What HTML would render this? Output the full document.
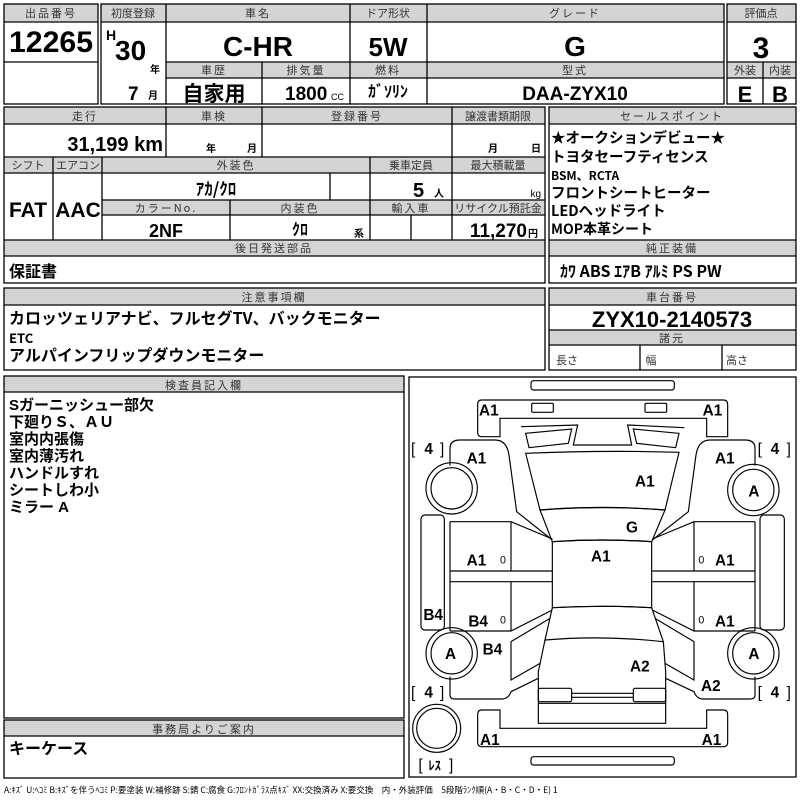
<!DOCTYPE html>
<html><head><meta charset="utf-8"><style>
html,body{margin:0;padding:0;background:#fff;width:800px;height:800px;overflow:hidden}
text{font-family:"Liberation Sans Narrow","Liberation Sans","Noto Sans CJK JP",sans-serif;fill:#000}
.h{font-size:11px;text-anchor:middle;fill:#333;font-family:"Noto Sans CJK JP",sans-serif;letter-spacing:2px}
.b{font-weight:bold}
.c{text-anchor:middle}
.e{text-anchor:end}
.j{font-family:"Noto Sans CJK JP",sans-serif;font-weight:bold}
</style></head><body>
<svg width="800" height="800" viewBox="0 0 800 800" xmlns="http://www.w3.org/2000/svg">
<g fill="#d4d4d4" stroke="none">
<rect x="4" y="4" width="94" height="18"/><rect x="101" y="4" width="623" height="18"/><rect x="727" y="4" width="69" height="18"/>
<rect x="166" y="62" width="558" height="16"/><rect x="727" y="62" width="69" height="16"/>
<rect x="4" y="107" width="541" height="17"/><rect x="4" y="157" width="541" height="16"/><rect x="102" y="200" width="443" height="15"/><rect x="4" y="240" width="541" height="16"/>
<rect x="549" y="107" width="247" height="17"/><rect x="549" y="240" width="247" height="16"/>
<rect x="4" y="288" width="541" height="17"/><rect x="549" y="288" width="247" height="17"/><rect x="549" y="330" width="247" height="15"/>
<rect x="4" y="376" width="400" height="16"/><rect x="4" y="720" width="400" height="16"/>
</g>
<g fill="none" stroke="#000" stroke-width="1.3">
<rect x="4" y="4" width="94" height="100"/><line x1="4" y1="22" x2="98" y2="22"/><line x1="4" y1="62" x2="98" y2="62"/>
<rect x="101" y="4" width="623" height="100"/><line x1="101" y1="22" x2="724" y2="22"/>
<line x1="166" y1="4" x2="166" y2="104"/><line x1="350" y1="4" x2="350" y2="104"/><line x1="427" y1="4" x2="427" y2="104"/>
<line x1="262" y1="62" x2="262" y2="104"/><line x1="166" y1="62" x2="724" y2="62"/><line x1="166" y1="78" x2="724" y2="78"/>
<rect x="727" y="4" width="69" height="100"/><line x1="727" y1="22" x2="796" y2="22"/><line x1="727" y1="62" x2="796" y2="62"/><line x1="727" y1="78" x2="796" y2="78"/><line x1="763" y1="62" x2="763" y2="104"/>
<rect x="4" y="107" width="541" height="176"/>
<line x1="4" y1="124" x2="545" y2="124"/><line x1="4" y1="157" x2="545" y2="157"/><line x1="4" y1="173" x2="545" y2="173"/>
<line x1="102" y1="200" x2="545" y2="200"/><line x1="102" y1="215" x2="545" y2="215"/><line x1="4" y1="240" x2="545" y2="240"/><line x1="4" y1="256" x2="545" y2="256"/>
<line x1="166" y1="107" x2="166" y2="157"/><line x1="262" y1="107" x2="262" y2="157"/><line x1="452" y1="107" x2="452" y2="157"/>
<line x1="53" y1="157" x2="53" y2="240"/><line x1="102" y1="157" x2="102" y2="240"/><line x1="370" y1="157" x2="370" y2="240"/><line x1="452" y1="157" x2="452" y2="240"/>
<line x1="330" y1="173" x2="330" y2="200"/><line x1="230" y1="200" x2="230" y2="240"/><line x1="411" y1="215" x2="411" y2="240"/>
<rect x="549" y="107" width="247" height="176"/><line x1="549" y1="124" x2="796" y2="124"/><line x1="549" y1="240" x2="796" y2="240"/><line x1="549" y1="256" x2="796" y2="256"/>
<rect x="4" y="288" width="541" height="82"/><line x1="4" y1="305" x2="545" y2="305"/>
<rect x="549" y="288" width="247" height="82"/><line x1="549" y1="305" x2="796" y2="305"/><line x1="549" y1="330" x2="796" y2="330"/><line x1="549" y1="345" x2="796" y2="345"/>
<line x1="640" y1="345" x2="640" y2="370"/><line x1="722" y1="345" x2="722" y2="370"/>
<rect x="4" y="376" width="400" height="342"/><line x1="4" y1="392" x2="404" y2="392"/>
<rect x="4" y="720" width="400" height="58"/><line x1="4" y1="736" x2="404" y2="736"/>
<rect x="409" y="377" width="387" height="400"/>
</g>
<text class="h" x="51" y="17">出品番号</text><text class="b c" x="51" y="52" font-size="30" textLength="84" lengthAdjust="spacingAndGlyphs">12265</text>
<text class="h" x="133" y="17" style="letter-spacing:0">初度登録</text><text class="h" x="258" y="17">車名</text><text class="h" x="388" y="17" style="letter-spacing:0">ドア形状</text><text class="h" x="575" y="17">グレード</text>
<text class="b" x="106" y="40" font-size="14">H</text><text class="b" x="115" y="60" font-size="28">30</text><text class="j" x="150" y="73" font-size="10" font-weight="normal">年</text>
<text class="b" x="128" y="100" font-size="19">7</text><text class="j" x="148" y="99" font-size="10">月</text>
<text class="b c" x="258" y="56" font-size="28">C-HR</text><text class="b c" x="388" y="56" font-size="26">5W</text><text class="b c" x="575" y="56" font-size="28">G</text>
<text class="h" x="214" y="74">車歴</text><text class="h" x="306" y="74">排気量</text><text class="h" x="388" y="74">燃料</text><text class="h" x="575" y="74">型式</text>
<text class="j c" x="214" y="101" font-size="21">自家用</text><text class="b" x="285" y="100" font-size="19">1800</text><text x="331" y="100" font-size="9">CC</text>
<text class="j c" x="388" y="97" font-size="16">ｶﾞｿﾘﾝ</text><text class="b c" x="575" y="100" font-size="19">DAA-ZYX10</text>
<text class="h" x="761" y="17" style="letter-spacing:0">評価点</text><text class="b c" x="761" y="58" font-size="30">3</text>
<text class="h" x="745" y="74" style="letter-spacing:0">外装</text><text class="h" x="780" y="74" style="letter-spacing:0">内装</text>
<text class="b c" x="745" y="102" font-size="22">E</text><text class="b c" x="780" y="102" font-size="22">B</text>
<text class="h" x="85" y="120">走行</text><text class="h" x="214" y="120">車検</text><text class="h" x="357" y="120">登録番号</text><text class="h" x="498" y="120" style="letter-spacing:0">譲渡書類期限</text>
<text class="b e" x="163" y="151" font-size="20">31,199 km</text>
<text class="j" x="206" y="152" font-size="10" font-weight="normal">年</text><text class="j" x="247" y="152" font-size="10" font-weight="normal">月</text>
<text class="j" x="488" y="152" font-size="10" font-weight="normal">月</text><text class="j" x="531" y="152" font-size="10" font-weight="normal">日</text>
<text class="h" x="28" y="169" style="letter-spacing:0">シフト</text><text class="h" x="78" y="169" style="letter-spacing:0">エアコン</text><text class="h" x="236" y="169">外装色</text><text class="h" x="411" y="169" style="letter-spacing:0">乗車定員</text><text class="h" x="498" y="169" style="letter-spacing:0">最大積載量</text>
<text class="b c" x="28" y="217" font-size="21">FAT</text><text class="b c" x="78" y="217" font-size="21">AAC</text>
<text class="j c" x="216" y="195" font-size="17">ｱｶ/ｸﾛ</text><text class="b" x="413" y="197" font-size="20">5</text><text class="j" x="434" y="197" font-size="10" font-weight="normal">人</text><text class="e" x="541" y="197" font-size="10">kg</text>
<text class="h" x="166" y="212">カラーNo.</text><text class="h" x="300" y="212">内装色</text><text class="h" x="411" y="212">輸入車</text><text class="h" x="498" y="212" style="letter-spacing:0">リサイクル預託金</text>
<text class="b c" x="166" y="237" font-size="18">2NF</text><text class="j c" x="300" y="235" font-size="16">ｸﾛ</text><text class="j" x="354" y="237" font-size="10" font-weight="normal">系</text>
<text class="b e" x="527" y="237" font-size="19">11,270</text><text class="j" x="528" y="237" font-size="10" font-weight="normal">円</text>
<text class="h" x="274" y="252">後日発送部品</text><text class="j" x="9" y="277" font-size="16">保証書</text>
<text class="h" x="672" y="120">セールスポイント</text>
<text class="j" x="551" y="143" font-size="14.5">★オークションデビュー★</text>
<text class="j" x="551" y="162" font-size="14.5">トヨタセーフティセンス</text>
<text class="j" x="551" y="180" font-size="12">BSM、RCTA</text>
<text class="j" x="551" y="198" font-size="14.5">フロントシートヒーター</text>
<text class="j" x="551" y="216" font-size="14.5">LEDヘッドライト</text>
<text class="j" x="551" y="234" font-size="14">MOP本革シート</text>
<text class="h" x="672" y="252">純正装備</text>
<text class="j" x="560" y="277" font-size="16">ｶﾜ ABS ｴｱB ｱﾙﾐ PS PW</text>
<text class="h" x="274" y="301">注意事項欄</text>
<text class="j" x="9" y="324" font-size="16">カロッツェリアナビ、フルセグTV、バックモニター</text>
<text class="j" x="9" y="343" font-size="13">ETC</text>
<text class="j" x="9" y="361" font-size="16">アルパインフリップダウンモニター</text>
<text class="h" x="672" y="301">車台番号</text><text class="b c" x="672" y="327" font-size="22">ZYX10-2140573</text>
<text class="h" x="672" y="342">諸元</text>
<text class="h" x="567" y="364" style="letter-spacing:0">長さ</text><text class="h" x="652" y="364">幅</text><text class="h" x="737" y="364" style="letter-spacing:0">高さ</text>
<text class="h" x="204" y="389">検査員記入欄</text>
<g class="j" font-size="15">
<text x="9" y="410">Sガーニッシュー部欠</text><text x="9" y="427">下廻りＳ、ＡＵ</text><text x="9" y="444">室内内張傷</text><text x="9" y="461">室内薄汚れ</text><text x="9" y="478">ハンドルすれ</text><text x="9" y="495">シートしわ小</text><text x="9" y="512">ミラー A</text>
</g>
<text class="h" x="204" y="733">事務局よりご案内</text><text class="j" x="9" y="754" font-size="16">キーケース</text>
<text x="4" y="793" font-size="8.5" style="font-family:'Noto Sans CJK JP',sans-serif">A:ｷｽﾞ U:ﾍｺﾐ B:ｷｽﾞを伴うﾍｺﾐ P:要塗装 W:補修跡 S:錆 C:腐食 G:ﾌﾛﾝﾄｶﾞﾗｽ点ｷｽﾞ XX:交換済み X:要交換　内・外装評価　5段階ﾗﾝｸ順(A・B・C・D・E) 1</text>

<svg x="405" y="375" width="395" height="425" viewBox="0 0 1185 1275">
<g fill="none" stroke="#000" stroke-width="3.5">
<rect x="378" y="17" width="430" height="28" rx="8"/>
<path d="M230,75 H955 Q968,75 968,88 V185 H905 V130 H285 V185 H230 Q218,185 218,172 V88 Q218,75 230,75 Z"/>
<rect x="380" y="85" width="65" height="27" rx="4"/><rect x="720" y="85" width="65" height="27" rx="4"/>
<path d="M348,155 L518,150 L505,210 L680,210 L668,150 L838,158"/>
<path d="M362,175 L500,162 L490,205 L372,218 Z"/><path d="M685,162 L822,175 L812,218 L695,205 Z"/>
<path d="M362,235 Q592,225 822,232 L780,405 Q592,390 405,405 Z"/>
<path d="M405,405 Q592,390 780,405 L740,500 Q592,490 442,500 Z"/>
<path d="M442,500 Q592,490 740,500 V698 Q592,690 442,698 Z"/>
<path d="M442,698 Q592,690 740,698 L775,800 Q592,780 420,795 Z"/>
<path d="M420,795 L400,890 V1045 H782 V890 L775,800"/>
<rect x="400" y="940" width="100" height="40" rx="5"/><rect x="685" y="940" width="97" height="40" rx="5"/>
<path d="M500,955 H685 M500,967 H685"/><line x1="400" y1="985" x2="782" y2="985"/>
<path d="M230,1005 H285 V1060 H905 V1005 H955 Q968,1005 968,1018 V1102 Q968,1115 955,1115 H230 Q218,1115 218,1102 V1018 Q218,1005 230,1005 Z"/>
<rect x="378" y="1145" width="430" height="25" rx="8"/>
<path d="M135,272 V220 Q135,195 165,195 H270 Q305,195 312,240 L335,410 L442,495"/>
<path d="M1050,272 V220 Q1050,195 1020,195 H915 Q880,195 873,240 L850,410 L742,495"/>
<circle cx="140" cy="340" r="77"/><circle cx="140" cy="340" r="62"/>
<circle cx="1045" cy="345" r="77"/><circle cx="1045" cy="345" r="62"/>
<circle cx="140" cy="835" r="77"/><circle cx="140" cy="835" r="62"/>
<circle cx="1045" cy="835" r="77"/><circle cx="1045" cy="835" r="62"/>
<circle cx="95" cy="1060" r="72"/><circle cx="95" cy="1060" r="60"/>
<path d="M135,440 H318 L442,492 M135,588 H442 M135,620 H442 M135,768 H318 L442,705 M318,440 V588 M318,620 V768 M135,440 V768"/>
<path d="M1050,440 H867 L742,492 M1050,588 H742 M1050,620 H742 M1050,768 H867 L742,705 M867,440 V588 M867,620 V768 M1050,440 V768"/>
<rect x="48" y="420" width="70" height="345" rx="12"/><rect x="1065" y="420" width="73" height="345" rx="12"/>
<path d="M318,800 L435,730 M318,800 V915 L405,865"/>
<path d="M867,800 L750,730 M867,800 V915 L780,865"/>
<path d="M135,905 V960 Q135,972 150,972 H290 Q310,972 318,950 L400,910"/>
<path d="M1050,905 V960 Q1050,972 1035,972 H895 Q875,972 867,950 L782,910"/>
</g>
<g font-size="46" font-weight="bold" style="font-family:'Liberation Sans','Noto Sans CJK JP',sans-serif">
<text x="222" y="122">A1</text><text x="893" y="122">A1</text>
<text x="185" y="265">A1</text><text x="930" y="265">A1</text>
<text x="690" y="335">A1</text><text x="663" y="472">G</text><text x="558" y="560">A1</text>
<text x="1030" y="365">A</text><text x="120" y="852">A</text><text x="1030" y="852">A</text>
<text x="185" y="572">A1</text><text x="930" y="572">A1</text>
<text x="55" y="735">B4</text><text x="190" y="755">B4</text><text x="930" y="755">A1</text>
<text x="233" y="838">B4</text><text x="675" y="890">A2</text><text x="888" y="948">A2</text>
<text x="225" y="1110">A1</text><text x="890" y="1110">A1</text>
<text x="18" y="237" font-weight="normal">[ </text><text x="58" y="237">4</text><text x="105" y="237" font-weight="normal">]</text>
<text x="1058" y="237" font-weight="normal">[ </text><text x="1097" y="237">4</text><text x="1145" y="237" font-weight="normal">]</text>
<text x="18" y="967" font-weight="normal">[ </text><text x="58" y="967">4</text><text x="105" y="967" font-weight="normal">]</text>
<text x="1058" y="967" font-weight="normal">[ </text><text x="1097" y="967">4</text><text x="1145" y="967" font-weight="normal">]</text>
<text x="40" y="1185" font-weight="normal">[</text><text x="70" y="1185" font-size="38" style="font-family:'Noto Sans CJK JP',sans-serif">ﾚｽ</text><text x="132" y="1185" font-weight="normal">]</text>
<text x="285" y="565" font-size="32" font-weight="normal">0</text><text x="880" y="565" font-size="32" font-weight="normal">0</text>
<text x="285" y="745" font-size="32" font-weight="normal">0</text><text x="880" y="745" font-size="32" font-weight="normal">0</text>
</g>
</svg>
</svg>
</body></html>
